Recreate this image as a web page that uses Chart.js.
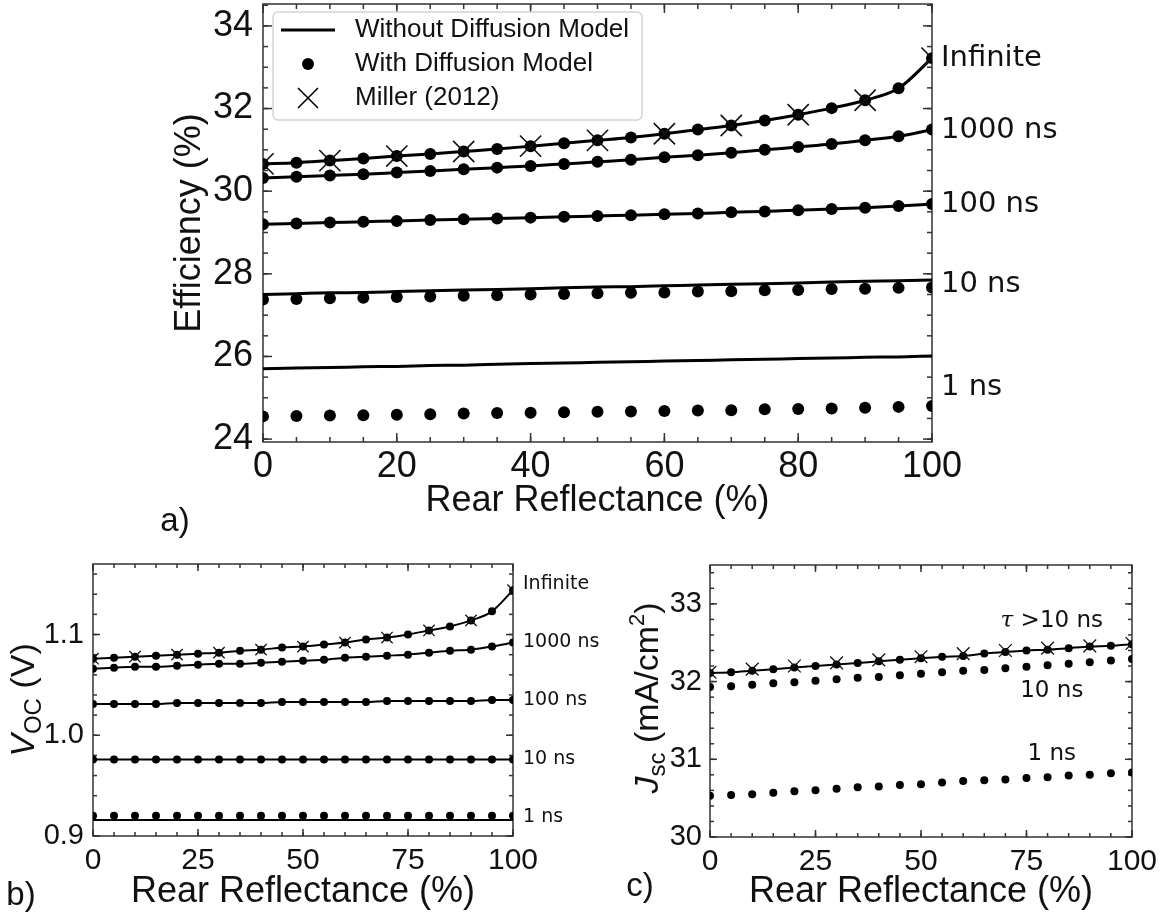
<!DOCTYPE html>
<html>
<head>
<meta charset="utf-8">
<script src="https://cdn.jsdelivr.net/npm/chart.js@4.4.1/dist/chart.umd.min.js"></script>
<style>
body{margin:0;background:#fff;}
#fig{position:relative;width:1164px;height:917px;background:#fff;overflow:hidden;font-family:"Liberation Sans",Arial,sans-serif;color:#111;}
canvas{position:absolute;}
.tag{position:absolute;font-size:33px;line-height:1;transform:translate(-50%,-50%);}
.ytitle{position:absolute;font-size:34px;line-height:1;white-space:nowrap;transform:translate(-50%,-50%) rotate(-90deg);}
.ytitle sub{font-size:24px;vertical-align:-7px;}
.ytitle sup{font-size:22px;vertical-align:14px;}
</style>
</head>
<body>
<div id="fig">
  <canvas id="ca" width="1164" height="540" style="left:0;top:0"></canvas>
  <canvas id="cb" width="610" height="377" style="left:0;top:540px"></canvas>
  <canvas id="cc" width="564" height="377" style="left:600px;top:540px"></canvas>
  <div class="tag" style="left:175px;top:519px">a)</div>
  <div class="tag" style="left:21px;top:893px">b)</div>
  <div class="tag" style="left:640px;top:884px">c)</div>
  <div class="ytitle" style="left:25px;top:700px"><i>V</i><sub>OC</sub> (V)</div>
  <div class="ytitle" style="left:647px;top:698px"><i>J</i><sub>sc</sub> (mA/cm<sup>2</sup>)</div>
</div>
<script>
// rear reflectance (%)
const reflect = [0,5,10,15,20,25,30,35,40,45,50,55,60,65,70,75,80,85,90,95,100];
const reflectMiller = [0,10,20,30,40,50,60,70,80,90,100];

// a) efficiency (%)
const effDotInf  = [30.66,30.69,30.74,30.79,30.85,30.90,30.96,31.02,31.09,31.16,31.23,31.30,31.39,31.49,31.59,31.71,31.85,32.01,32.20,32.49,33.22];
const effDot1000 = [30.32,30.35,30.38,30.41,30.45,30.49,30.53,30.57,30.61,30.66,30.71,30.76,30.82,30.87,30.93,31.00,31.07,31.14,31.23,31.33,31.49];
const effDot100  = [29.20,29.22,29.24,29.26,29.28,29.30,29.32,29.34,29.36,29.38,29.40,29.42,29.44,29.46,29.49,29.51,29.54,29.57,29.60,29.64,29.69];
const effDot10   = [27.38,27.39,27.41,27.42,27.44,27.45,27.47,27.48,27.50,27.51,27.53,27.54,27.55,27.57,27.58,27.60,27.61,27.63,27.64,27.66,27.67];
const effDot1    = [24.55,24.56,24.57,24.58,24.59,24.60,24.62,24.63,24.64,24.65,24.66,24.67,24.68,24.69,24.70,24.72,24.73,24.74,24.76,24.78,24.80];
const effLineInf  = [30.66,30.69,30.74,30.79,30.85,30.90,30.96,31.02,31.09,31.16,31.23,31.30,31.39,31.49,31.59,31.71,31.85,32.01,32.20,32.49,33.22];
const effLine1000 = [30.32,30.35,30.38,30.41,30.45,30.49,30.53,30.57,30.61,30.66,30.71,30.76,30.82,30.87,30.93,31.00,31.07,31.14,31.23,31.33,31.49];
const effLine100  = [29.20,29.22,29.24,29.26,29.28,29.30,29.32,29.34,29.36,29.38,29.40,29.42,29.44,29.46,29.49,29.51,29.54,29.57,29.60,29.64,29.69];
const effLine10   = [27.50,27.52,27.54,27.55,27.57,27.59,27.61,27.62,27.64,27.66,27.68,27.69,27.71,27.73,27.75,27.76,27.78,27.80,27.82,27.83,27.85];
const effLine1    = [25.70,25.72,25.73,25.75,25.76,25.78,25.79,25.81,25.83,25.84,25.86,25.87,25.89,25.90,25.92,25.93,25.95,25.96,25.98,25.99,26.01];
const effMiller   = [30.66,30.74,30.85,30.96,31.09,31.23,31.39,31.59,31.85,32.20,33.22];

// b) open-circuit voltage (V)
const vocDotInf  = [1.076,1.077,1.078,1.079,1.080,1.081,1.082,1.084,1.085,1.087,1.088,1.090,1.092,1.095,1.097,1.100,1.104,1.108,1.114,1.123,1.144];
const vocDot1000 = [1.066,1.067,1.068,1.068,1.069,1.070,1.071,1.071,1.072,1.073,1.074,1.075,1.077,1.078,1.079,1.080,1.082,1.084,1.085,1.088,1.092];
const vocDot100  = [1.031,1.031,1.031,1.031,1.032,1.032,1.032,1.032,1.032,1.033,1.033,1.033,1.033,1.033,1.034,1.034,1.034,1.034,1.034,1.035,1.035];
const vocDot10   = [0.976,0.976,0.976,0.976,0.976,0.976,0.976,0.976,0.976,0.976,0.976,0.976,0.976,0.976,0.976,0.976,0.976,0.976,0.976,0.976,0.976];
const vocDot1    = [0.920,0.920,0.920,0.920,0.920,0.920,0.920,0.920,0.920,0.920,0.920,0.920,0.920,0.920,0.920,0.920,0.920,0.920,0.920,0.920,0.920];
const vocLineInf  = [1.076,1.077,1.078,1.079,1.080,1.081,1.082,1.084,1.085,1.087,1.088,1.090,1.092,1.095,1.097,1.100,1.104,1.108,1.114,1.123,1.144];
const vocLine1000 = [1.066,1.067,1.068,1.068,1.069,1.070,1.071,1.071,1.072,1.073,1.074,1.075,1.077,1.078,1.079,1.080,1.082,1.084,1.085,1.088,1.092];
const vocLine100  = [1.031,1.031,1.031,1.031,1.032,1.032,1.032,1.032,1.032,1.033,1.033,1.033,1.033,1.033,1.034,1.034,1.034,1.034,1.034,1.035,1.035];
const vocLine10   = [0.976,0.976,0.976,0.976,0.976,0.976,0.976,0.976,0.976,0.976,0.976,0.976,0.976,0.976,0.976,0.976,0.976,0.976,0.976,0.976,0.976];
const vocLine1    = [0.916,0.916,0.916,0.916,0.916,0.916,0.916,0.916,0.916,0.916,0.916,0.916,0.916,0.916,0.916,0.916,0.916,0.916,0.916,0.916,0.916];
const vocMiller   = [1.076,1.078,1.080,1.082,1.085,1.088,1.092,1.097,1.104,1.114,1.144];

// c) short-circuit current (mA/cm2)
const jscDotHigh  = [32.11,32.12,32.14,32.16,32.18,32.20,32.22,32.24,32.26,32.28,32.30,32.32,32.33,32.36,32.38,32.40,32.41,32.43,32.45,32.46,32.48];
const jscDot10    = [31.93,31.94,31.96,31.98,31.99,32.01,32.03,32.05,32.06,32.08,32.10,32.12,32.14,32.15,32.17,32.19,32.21,32.23,32.25,32.27,32.29];
const jscDot1     = [30.53,30.54,30.55,30.57,30.59,30.60,30.62,30.64,30.65,30.67,30.68,30.70,30.72,30.73,30.74,30.76,30.77,30.79,30.80,30.82,30.83];
const jscLineHigh = [32.11,32.12,32.14,32.16,32.18,32.20,32.22,32.24,32.26,32.28,32.30,32.32,32.33,32.36,32.38,32.40,32.41,32.43,32.45,32.46,32.48];
const jscMiller   = [32.12,32.16,32.20,32.24,32.28,32.32,32.36,32.40,32.43,32.46,32.49];

// tick labels
const effTicks = [24,26,28,30,32,34];
const reflTicksA = [0,20,40,60,80,100];
const vocTicks = [0.9,1.0,1.1];
const jscTicks = [30,31,32,33];
const reflTicksBC = [0,25,50,75,100];

// annotations
const legendNames = ['Without Diffusion Model','With Diffusion Model','Miller (2012)'];
const lifetimeNames = ['Infinite','1000 ns','100 ns','10 ns','1 ns'];
const effLabelAt = [33.22,31.47,29.67,27.74,25.26];
const vocLabelAt = [1.150,1.093,1.035,0.976,0.919];
const jscNames = ['τ >10 ns','10 ns','1 ns'];
const jscLabelAt = [32.78,31.88,31.07];

const FONT = '"Liberation Sans", Arial, sans-serif';
const INK = '#111';

const pts = (xs, ys) => xs.map((x, i) => ({x: x, y: ys[i]}));

function lineSet(ys, w) {
  return {data: pts(reflect, ys), borderColor: '#000', borderWidth: w, pointRadius: 0,
          cubicInterpolationMode: 'monotone', clip: 0};
}
function dotSet(ys, r) {
  return {data: pts(reflect, ys), showLine: false, pointStyle: 'circle', pointRadius: r,
          backgroundColor: '#000', borderColor: '#000', borderWidth: 0, pointBorderWidth: 0, clip: 0};
}
function crossSet(ys, r, w) {
  return {data: pts(reflectMiller, ys), showLine: false, pointStyle: 'crossRot', pointRadius: r,
          borderColor: INK, pointBorderColor: INK, borderWidth: w, pointBorderWidth: w, clip: 0};
}

// box + inward ticks on all four sides
const frameTicks = {
  id: 'frameTicks',
  beforeDatasetsDraw(chart, args, o) {
    const {ctx, chartArea: a} = chart;
    ctx.save();
    ctx.strokeStyle = '#333';
    ctx.lineWidth = o.width || 1.5;
    ctx.strokeRect(a.left, a.top, a.right - a.left, a.bottom - a.top);
    const seg = (x1, y1, x2, y2) => { ctx.beginPath(); ctx.moveTo(x1, y1); ctx.lineTo(x2, y2); ctx.stroke(); };
    const mark = (id, vals, len) => {
      const sc = chart.scales[id];
      vals.forEach(v => {
        const p = sc.getPixelForValue(v);
        if (id === 'x') { seg(p, a.bottom, p, a.bottom - len); seg(p, a.top, p, a.top + len); }
        else { seg(a.left, p, a.left + len, p); seg(a.right, p, a.right - len, p); }
      });
    };
    const minorVals = (id, step) => {
      const sc = chart.scales[id], out = [];
      for (let n = Math.ceil(sc.min / step - 1e-6); n <= Math.floor(sc.max / step + 1e-6); n++) out.push(n * step);
      return out;
    };
    mark('x', minorVals('x', o.xMinor), o.minor);
    mark('y', minorVals('y', o.yMinor), o.minor);
    mark('x', chart.scales.x.ticks.map(t => t.value), o.major);
    mark('y', chart.scales.y.ticks.map(t => t.value), o.major);
    ctx.restore();
  }
};

// lifetime labels placed with the data scales
const sideLabels = {
  id: 'sideLabels',
  afterDraw(chart, args, o) {
    if (!o.text) return;
    const {ctx} = chart, sx = chart.scales.x, sy = chart.scales.y;
    ctx.save();
    ctx.fillStyle = INK;
    ctx.textBaseline = 'middle';
    o.text.forEach((t, i) => {
      const px = sx.getPixelForValue(o.x[i]) + o.dx;
      const py = sy.getPixelForValue(o.y[i]);
      const plain = o.size + 'px "DejaVu Sans", Verdana, sans-serif';
      if (t.charAt(0) === 'τ') {
        const rest = t.slice(1);
        const ital = 'italic ' + o.size + 'px "DejaVu Serif", serif';
        ctx.font = ital; const w1 = ctx.measureText('τ').width;
        ctx.font = plain; const w2 = ctx.measureText(rest).width;
        const left = o.align === 'center' ? px - (w1 + w2) / 2 : px;
        ctx.textAlign = 'left';
        ctx.font = ital; ctx.fillText('τ', left, py);
        ctx.font = plain; ctx.fillText(rest, left + w1, py);
      } else {
        ctx.textAlign = o.align;
        ctx.font = plain;
        ctx.fillText(t, px, py);
      }
    });
    ctx.restore();
  }
};

// framed legend inside the chart area of panel a
const legendBox = {
  id: 'legendBox',
  afterDatasetsDraw(chart, args, o) {
    if (!o.names) return;
    const {ctx, chartArea: a} = chart;
    const x0 = a.left + o.x, y0 = a.top + o.y;
    ctx.save();
    ctx.fillStyle = 'rgba(255,255,255,0.85)';
    ctx.strokeStyle = '#d4d4d4';
    ctx.lineWidth = 1.5;
    ctx.beginPath();
    ctx.roundRect(x0, y0, o.w, o.h, 5);
    ctx.fill(); ctx.stroke();
    ctx.fillStyle = INK;
    ctx.strokeStyle = '#000';
    ctx.font = o.size + 'px ' + FONT;
    ctx.textBaseline = 'middle';
    o.names.forEach((name, i) => {
      const cy = y0 + o.row0 + i * o.gap, cx = x0 + o.symX;
      ctx.beginPath();
      if (i === 0) {
        ctx.lineWidth = 3; ctx.moveTo(cx - 27, cy); ctx.lineTo(cx + 27, cy); ctx.stroke();
      } else if (i === 1) {
        ctx.arc(cx, cy, 6, 0, Math.PI * 2); ctx.fillStyle = '#000'; ctx.fill();
      } else {
        ctx.lineWidth = 1.6;
        ctx.moveTo(cx - 10, cy - 10); ctx.lineTo(cx + 10, cy + 10);
        ctx.moveTo(cx + 10, cy - 10); ctx.lineTo(cx - 10, cy + 10); ctx.stroke();
      }
      ctx.fillStyle = INK;
      ctx.fillText(name, x0 + o.textX, cy);
    });
    ctx.restore();
  }
};

Chart.register(frameTicks, sideLabels, legendBox);

function axis(ticks, min, max, fontSize, pad, fit, fmt) {
  return {
    type: 'linear', min: min, max: max,
    afterBuildTicks: s => { s.ticks = ticks.map(v => ({value: v})); },
    afterFit: fit,
    grid: {display: false, drawTicks: false},
    border: {display: false},
    ticks: {font: {family: FONT, size: fontSize}, color: INK, padding: pad, autoSkip: false, maxRotation: 0,
             callback: fmt || (v => String(v))}
  };
}

const common = {
  responsive: false, animation: false, devicePixelRatio: 1, events: []
};

// y scales: fixed width, no extra room reserved for end labels
const yFit = w => s => { s.width = w; s.paddingTop = 0; s.paddingBottom = 0; };

// a) efficiency
const xa = axis(reflTicksA, 0, 100, 36, 3, s => { s.height = 98; });
xa.title = {display: true, text: 'Rear Reflectance (%)', color: INK, font: {family: FONT, size: 36}, padding: {top: 0, bottom: 17}};
const ya = axis(effTicks, 23.93, 34.53, 36, 10, yFit(113));
ya.title = {display: true, text: 'Efficiency (%)', color: INK, font: {family: FONT, size: 36}, padding: {top: 18, bottom: 0}};

new Chart(document.getElementById('ca'), {
  type: 'line',
  data: {datasets: [
    crossSet(effMiller, 15, 1.6),
    dotSet(effDotInf, 6), dotSet(effDot1000, 6), dotSet(effDot100, 6), dotSet(effDot10, 6), dotSet(effDot1, 6),
    lineSet(effLineInf, 3), lineSet(effLine1000, 3), lineSet(effLine100, 3), lineSet(effLine10, 3), lineSet(effLine1, 3)
  ]},
  options: Object.assign({}, common, {
    layout: {autoPadding: false, padding: {left: 150, right: 232, top: 4, bottom: 0}},
    scales: {x: xa, y: ya},
    plugins: {
      legend: {display: false}, tooltip: {enabled: false},
      frameTicks: {xMinor: 5, yMinor: 0.5, major: 9, minor: 5, width: 1.5},
      sideLabels: {text: lifetimeNames, x: [100, 100, 100, 100, 100], y: effLabelAt, dx: 9, size: 29, align: 'left'},
      legendBox: {names: legendNames, x: 10, y: 8, w: 369, h: 108, row0: 18, gap: 34, symX: 35, textX: 82, size: 26}
    }
  })
});

// b) Voc
const xb = axis(reflTicksBC, 0, 100, 30, 7, s => { s.height = 81; });
xb.title = {display: true, text: 'Rear Reflectance (%)', color: INK, font: {family: FONT, size: 36}, padding: {top: 0, bottom: 3}};
const yb = axis(vocTicks, 0.9, 1.17, 29, 9, yFit(93), v => v.toFixed(1));

new Chart(document.getElementById('cb'), {
  type: 'line',
  data: {datasets: [
    crossSet(vocMiller, 8, 1.3),
    dotSet(vocDotInf, 4), dotSet(vocDot1000, 4), dotSet(vocDot100, 4), dotSet(vocDot10, 4), dotSet(vocDot1, 4),
    lineSet(vocLineInf, 2), lineSet(vocLine1000, 2), lineSet(vocLine100, 2), lineSet(vocLine10, 2), lineSet(vocLine1, 2)
  ]},
  options: Object.assign({}, common, {
    layout: {autoPadding: false, padding: {left: 0, right: 97, top: 24, bottom: 0}},
    scales: {x: xb, y: yb},
    plugins: {
      legend: {display: false}, tooltip: {enabled: false},
      frameTicks: {xMinor: 5, yMinor: 0.02, major: 7, minor: 4, width: 1.5},
      sideLabels: {text: lifetimeNames, x: [100, 100, 100, 100, 100], y: vocLabelAt, dx: 10, size: 19, align: 'left'}
    }
  })
});

// c) Jsc
const xc = axis(reflTicksBC, 0, 100, 30, 7, s => { s.height = 80; });
xc.title = {display: true, text: 'Rear Reflectance (%)', color: INK, font: {family: FONT, size: 36}, padding: {top: 0, bottom: 3}};
const yc = axis(jscTicks, 30, 33.5, 29, 8, yFit(110));

new Chart(document.getElementById('cc'), {
  type: 'line',
  data: {datasets: [
    crossSet(jscMiller, 9, 1.3),
    dotSet(jscDotHigh, 4), dotSet(jscDot10, 4), dotSet(jscDot1, 4),
    lineSet(jscLineHigh, 2)
  ]},
  options: Object.assign({}, common, {
    layout: {autoPadding: false, padding: {left: 0, right: 32, top: 25, bottom: 0}},
    scales: {x: xc, y: yc},
    plugins: {
      legend: {display: false}, tooltip: {enabled: false},
      frameTicks: {xMinor: 5, yMinor: 0.2, major: 7, minor: 4, width: 1.5},
      sideLabels: {text: jscNames, x: [81, 81, 81], y: jscLabelAt, dx: 0, size: 23, align: 'center'}
    }
  })
});
</script>
</body>
</html>
